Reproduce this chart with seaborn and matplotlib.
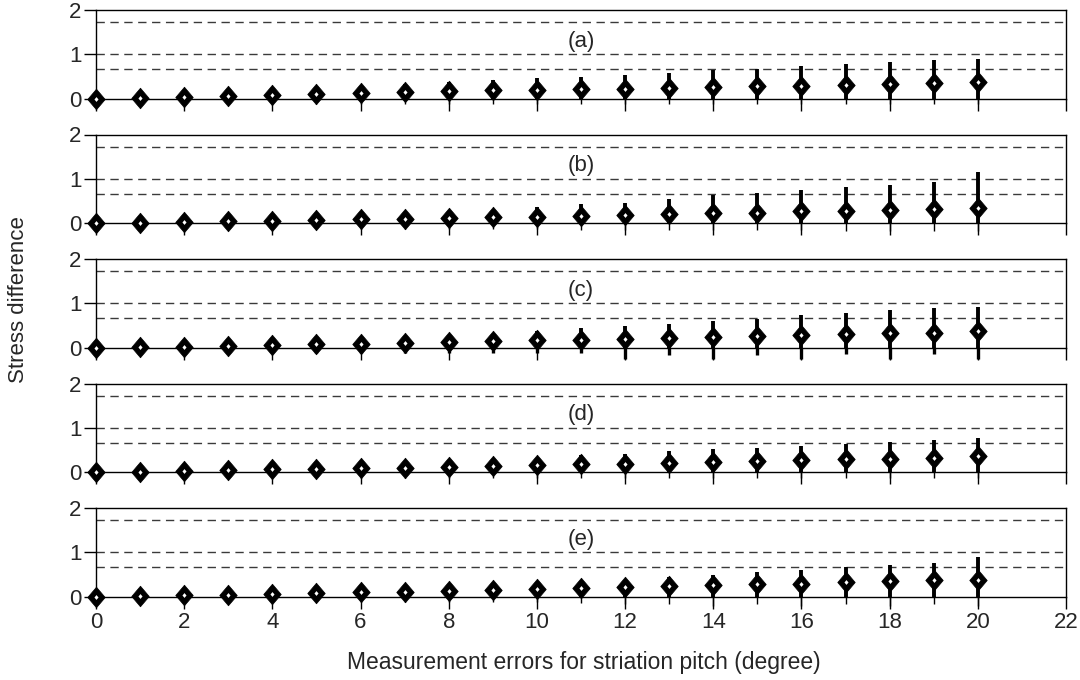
import numpy as np
import pandas as pd
import matplotlib
matplotlib.use("Agg")
import matplotlib.pyplot as plt
import seaborn as sns

# measurement error (degree)
errors = list(range(21))
panels = ["(a)", "(b)", "(c)", "(d)", "(e)"]

# mean stress difference
mean_a = [0, 0.015, 0.04, 0.07, 0.08, 0.11, 0.14, 0.16, 0.17, 0.19, 0.20,
          0.22, 0.23, 0.25, 0.27, 0.28, 0.30, 0.32, 0.33, 0.36, 0.37]
mean_b = [0, 0.015, 0.03, 0.05, 0.06, 0.08, 0.09, 0.11, 0.12, 0.14, 0.15,
          0.17, 0.19, 0.21, 0.23, 0.24, 0.27, 0.28, 0.31, 0.32, 0.34]
mean_c = [0, 0.015, 0.03, 0.05, 0.06, 0.08, 0.09, 0.11, 0.13, 0.15, 0.17,
          0.18, 0.21, 0.23, 0.24, 0.27, 0.29, 0.31, 0.33, 0.34, 0.37]
mean_d = [0, 0.02, 0.04, 0.05, 0.07, 0.08, 0.09, 0.11, 0.12, 0.14, 0.16,
          0.18, 0.20, 0.22, 0.23, 0.26, 0.27, 0.30, 0.31, 0.33, 0.36]
mean_e = [0, 0.02, 0.04, 0.05, 0.07, 0.09, 0.11, 0.12, 0.14, 0.16, 0.17,
          0.20, 0.22, 0.24, 0.26, 0.28, 0.30, 0.33, 0.35, 0.37, 0.39]

# upper end of the scatter bars
upper_a = [0.05, 0.07, 0.13, 0.17, 0.22, 0.24, 0.28, 0.34, 0.39, 0.43, 0.47,
           0.50, 0.54, 0.58, 0.64, 0.67, 0.73, 0.79, 0.83, 0.87, 0.90]
upper_b = [0.05, 0.07, 0.11, 0.13, 0.16, 0.18, 0.20, 0.22, 0.26, 0.30, 0.37,
           0.44, 0.47, 0.55, 0.63, 0.69, 0.76, 0.82, 0.87, 0.93, 1.16]
upper_c = [0.05, 0.07, 0.11, 0.13, 0.16, 0.20, 0.22, 0.24, 0.28, 0.32, 0.37,
           0.44, 0.49, 0.54, 0.60, 0.66, 0.73, 0.79, 0.85, 0.89, 0.93]
upper_d = [0.05, 0.06, 0.09, 0.11, 0.12, 0.14, 0.16, 0.20, 0.22, 0.23, 0.27,
           0.39, 0.42, 0.48, 0.52, 0.56, 0.60, 0.65, 0.69, 0.73, 0.77]
upper_e = [0.05, 0.06, 0.08, 0.10, 0.12, 0.14, 0.17, 0.20, 0.22, 0.25, 0.27,
           0.33, 0.39, 0.44, 0.50, 0.55, 0.60, 0.67, 0.71, 0.77, 0.89]

# lower end of the scatter bars
lower_a = [-0.12] * 21
lower_b = [-0.12] * 11 + [-0.14, -0.14, -0.15, -0.15, -0.15, -0.15, -0.16, -0.16, -0.18, -0.18]
lower_c = [-0.12] * 12 + [-0.25, -0.15, -0.26, -0.15, -0.26, -0.14, -0.26, -0.14, -0.26]
lower_d = [-0.12] * 21
lower_e = [-0.12] * 11 + [-0.14, -0.15, -0.16, -0.2, -0.16, -0.2, -0.15, -0.2, -0.15, -0.2]

means = [mean_a, mean_b, mean_c, mean_d, mean_e]
uppers = [upper_a, upper_b, upper_c, upper_d, upper_e]
lowers = [lower_a, lower_b, lower_c, lower_d, lower_e]

# reference levels (dashed)
ref_levels = [0.67, 1.0, 1.73]

sns.set_theme(style="white")
plt.rcParams['font.family'] = ['Liberation Sans', 'DejaVu Sans']

# slightly tall diamond
diamond = [(-0.85, 0), (0, 1), (0.85, 0), (0, -1), (-0.85, 0)]

fig = plt.figure(figsize=(10.8, 6.8), dpi=100)
left, width = 96 / 1080, 970 / 1080
top_px, h_px = 10, 124.5

for i, name in enumerate(panels):
    bottom = 1 - (top_px + (i + 1) * h_px) / 680
    ax = fig.add_axes([left, bottom, width, h_px / 680])
    df = pd.DataFrame({'err': errors, 'mean': means[i],
                       'upper': uppers[i], 'lower': lowers[i]})

    for lv in ref_levels:
        ax.axhline(lv, color='#3a3a3a', lw=1, ls=(0, (6, 4)), zorder=1)

    # bars: thick above the axis, thinner below it
    thin_lw = 2.4 if name == "(c)" else 1.0
    ax.vlines(df['err'], df['lower'], 0, color='black', lw=thin_lw, zorder=2)
    ax.vlines(df['err'], 0, df['upper'], color='black', lw=2.8, zorder=2)

    # black diamond with a small white centre
    sns.scatterplot(data=df, x='err', y='mean', marker=diamond, s=220,
                    color='black', edgecolor='black', linewidth=0.5,
                    ax=ax, zorder=4, legend=False, clip_on=False)
    sns.scatterplot(data=df, x='err', y='mean', marker=diamond, s=12,
                    color='white', edgecolor='white', linewidth=0,
                    ax=ax, zorder=5, legend=False, clip_on=False)

    ax.text(11, 1.3, name, ha='center', va='center', fontsize=16)

    ax.set_xlim(0, 22)
    ax.set_ylim(-0.8, 2)
    ax.set_xlabel('')
    ax.set_ylabel('')
    ax.set_xticks(np.arange(0, 23, 2))
    ax.set_yticks([0, 1, 2])
    ax.spines['bottom'].set_position(('data', 0))
    ax.spines['left'].set_bounds(0, 2)
    ax.spines['right'].set_bounds(0, 2)
    for sp in ax.spines.values():
        sp.set_color('black')
        sp.set_linewidth(1)
    ax.patch.set_alpha(0)
    ax.tick_params(axis='both', direction='out', length=8.5, width=1,
                   color='black', labelsize=16, bottom=True, left=True, pad=2)
    if i < len(panels) - 1:
        ax.tick_params(axis='x', labelbottom=False)

fig.text(0.017, 1 - 300 / 680, 'Stress difference', rotation=90,
         ha='center', va='center', fontsize=16)
fig.text(584 / 1080, 1 - 663 / 680, 'Measurement errors for striation pitch (degree)',
         ha='center', va='center', fontsize=16.5)

fig.savefig('out.png', dpi=100)
